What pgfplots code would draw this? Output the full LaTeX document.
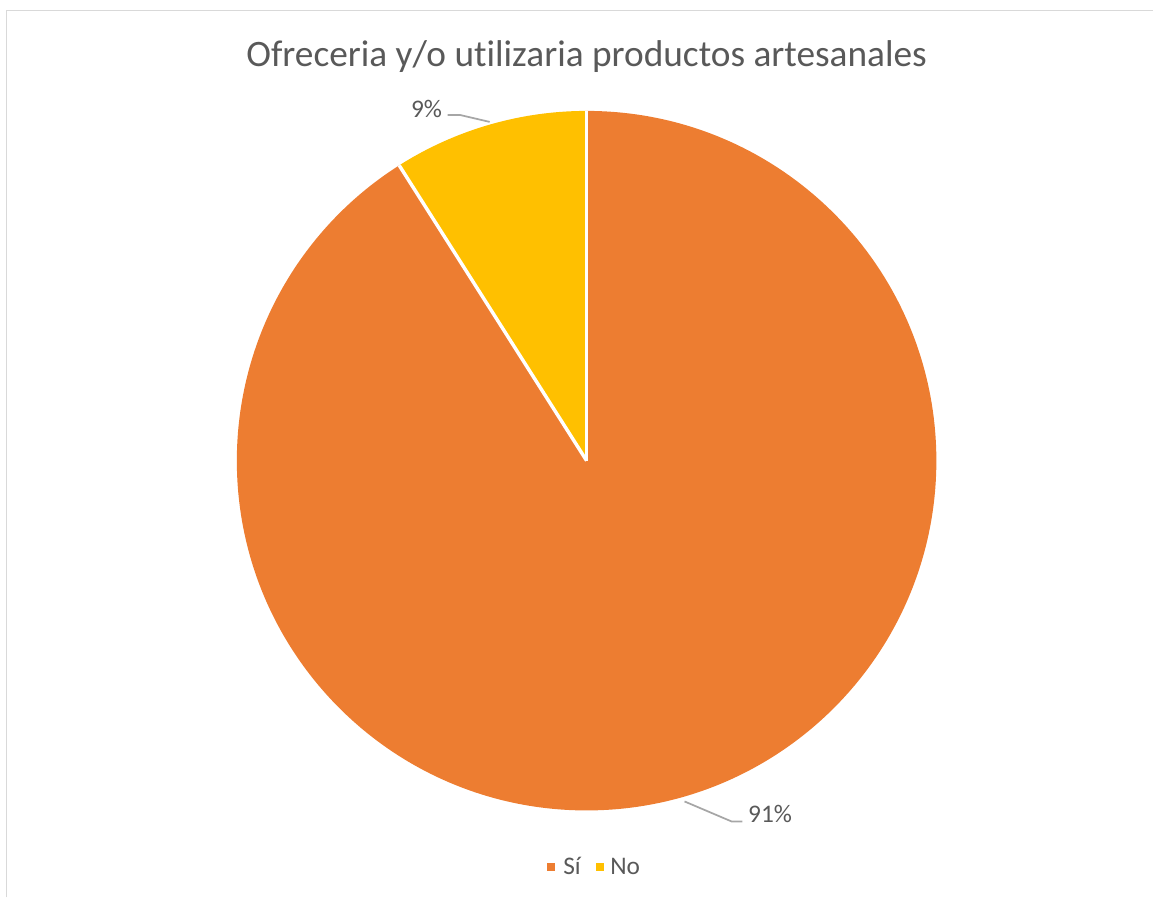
\documentclass[border=0pt]{standalone}
\usepackage{pgfplots}
\pgfplotsset{compat=1.18}
\usepackage{pgfplotstable}
\usepackage{fontspec}
\setmainfont[Ligatures={NoCommon}]{Carlito}
\definecolor{cSi}{HTML}{ED7D31}
\definecolor{cNo}{HTML}{FFC000}
\definecolor{txt}{HTML}{595959}
\definecolor{lead}{HTML}{A6A6A6}
\definecolor{frm}{HTML}{D9D9D9}

\pgfplotstableread{
label value
Sí 91
No 9
}\piedata

\begin{document}
\begin{tikzpicture}
\pgfplotstablegetelem{0}{value}\of\piedata \pgfmathsetmacro{\vSi}{\pgfplotsretval}
\pgfplotstablegetelem{1}{value}\of\piedata \pgfmathsetmacro{\vNo}{\pgfplotsretval}
\pgfmathsetmacro{\aEnd}{90-3.6*\vSi}
\pgfmathsetmacro{\aNoEnd}{\aEnd-3.6*\vNo}
\def\R{262.5pt}
\begin{axis}[scale only axis, width=865.5pt, height=673.5pt,
  xmin=0, xmax=1154, ymin=0, ymax=898, axis lines=none, clip=false,
  /pgf/number format/assume math mode=true]
\addplot[draw=none, forget plot] coordinates {(0,0) (1154,898)};
% frame
\draw[frm, line width=1.2pt] (axis cs:6.5,0) -- (axis cs:6.5,887.5) -- (axis cs:1154,887.5);
% title
\node[txt, font=\fontsize{28}{33}\selectfont] at (axis cs:587,841) {Ofreceria y/o utilizaria productos artesanales};
% slices
\fill[cSi] (axis cs:587,437) -- ++(90:\R) arc[start angle=90, end angle=\aEnd, radius=\R] -- cycle;
\fill[cNo] (axis cs:587,437) -- ++(\aEnd:\R) arc[start angle=\aEnd, end angle=\aNoEnd, radius=\R] -- cycle;
\draw[white, line width=2.6pt] (axis cs:587,437) -- ++(90:\R);
\draw[white, line width=2.6pt] (axis cs:587,437) -- ++(\aEnd:\R);
% leader lines and labels
\draw[lead, line width=1.3pt] (axis cs:448,783) -- (axis cs:460,783) -- (axis cs:490,776);
\node[txt, font=\fontsize{19}{22}\selectfont, anchor=east] at (axis cs:447,789) {\pgfmathprintnumber{\vNo}\%};
\draw[lead, line width=1.3pt] (axis cs:685,96) -- (axis cs:732,76) -- (axis cs:743,76);
\node[txt, font=\fontsize{19}{22}\selectfont, anchor=west] at (axis cs:744,83) {\pgfmathprintnumber{\vSi}\%};
% legend
\fill[cSi] (axis cs:547,26) rectangle (axis cs:555,34);
\node[txt, font=\fontsize{19}{22}\selectfont, anchor=west] at (axis cs:559,31) {Sí};
\fill[cNo] (axis cs:596,26) rectangle (axis cs:604,34);
\node[txt, font=\fontsize{19}{22}\selectfont, anchor=west] at (axis cs:606,31) {No};
\end{axis}
\end{tikzpicture}
\end{document}
